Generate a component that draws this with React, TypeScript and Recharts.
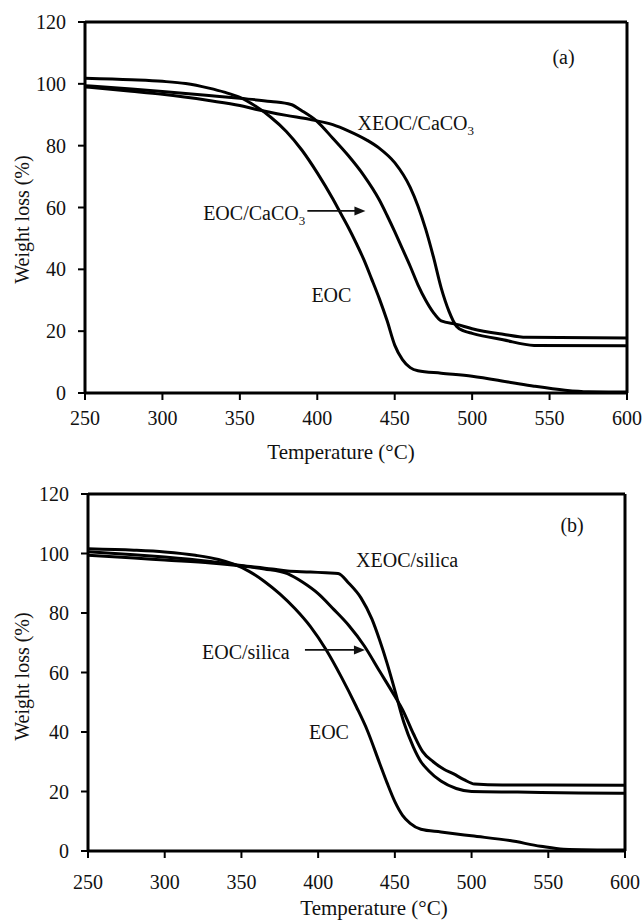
import { LineChart, Line, XAxis, YAxis, ReferenceLine, ReferenceDot, Label } from "recharts";

// (a) EOC / CaCO3 composites
const eocTempA = [250, 280, 300, 315, 330, 340, 350, 360, 370, 380, 390, 400, 410, 415, 420, 425, 430, 435, 440, 445, 450, 455, 460, 465, 480, 500, 525, 540, 560, 575, 600];
const eocWeightA = [101.8, 101.3, 100.8, 100.1, 98.6, 97.3, 95.6, 92.8, 89.2, 84.6, 78.6, 71.2, 62.8, 58.2, 53.6, 48.6, 43.2, 37.0, 30.6, 23.5, 15.5, 10.8, 8.2, 7.2, 6.4, 5.4, 3.4, 2.2, 0.9, 0.4, 0.3];

const eocCaco3TempA = [250, 280, 300, 330, 350, 370, 383, 390, 400, 410, 420, 430, 440, 445, 450, 455, 460, 465, 470, 475, 480, 490, 500, 520, 535, 600];
const eocCaco3WeightA = [99.4, 98.3, 97.5, 96.2, 95.3, 94.3, 93.3, 91.3, 87.8, 82.4, 76.8, 70.4, 62.5, 57.5, 52.2, 46.6, 41, 35, 30, 26, 23.3, 22.2, 20.8, 19, 18, 17.8];

const xeocCaco3TempA = [250, 280, 300, 330, 350, 360, 380, 395, 410, 420, 432, 440, 450, 460, 465, 470, 475, 480, 485, 490, 495, 500, 520, 540, 600];
const xeocCaco3WeightA = [99.0, 97.6, 96.6, 94.6, 93.0, 91.8, 89.8, 88.5, 86.8, 84.8, 81.8, 79.2, 74.5, 66.5, 60.5, 53, 44, 34, 26.5, 21.5, 20, 19.3, 17.2, 15.4, 15.3];

// (b) EOC / silica composites
const eocTempB = [250, 280, 300, 320, 335, 345, 355, 365, 375, 385, 395, 405, 415, 425, 432, 440, 445, 450, 455, 460, 467, 480, 500, 525, 545, 560, 600];
const eocWeightB = [101.6, 101.1, 100.5, 99.4, 98.0, 96.4, 94.0, 90.6, 86.4, 81.4, 75.4, 67.8, 58.6, 48.4, 40.6, 29.6, 22.8, 16.6, 12, 9.3, 7.3, 6.4, 5.1, 3.5, 1.6, 0.6, 0.3];

const eocSilicaTempB = [250, 280, 300, 330, 350, 365, 380, 390, 400, 410, 420, 430, 440, 450, 455, 462, 468, 475, 482, 488, 495, 502, 520, 600];
const eocSilicaWeightB = [99.4, 98.5, 97.8, 96.8, 95.8, 94.8, 93.2, 90.3, 86.5, 81.3, 75.8, 69, 60.5, 52, 47.5, 39.5, 33.5, 30, 27.5, 26, 24, 22.5, 22.2, 22.1];

const xeocSilicaTempB = [250, 280, 300, 330, 350, 370, 380, 395, 405, 413, 420, 428, 435, 440, 445, 450, 456, 462, 467, 472, 480, 490, 500, 530, 570, 600];
const xeocSilicaWeightB = [100.6, 99.6, 98.8, 97.3, 96.0, 94.8, 94.1, 93.8, 93.5, 93.3, 90, 85, 78, 71, 63, 54, 43, 35, 30, 27, 23.5, 21, 20, 19.8, 19.5, 19.4];

const tempTicks = [250, 300, 350, 400, 450, 500, 550, 600];
const weightTicks = [0, 20, 40, 60, 80, 100, 120];

const FONT = "Liberation Serif, DejaVu Serif, serif";
const INK = "#111";

const toPoints = (temps: number[], weights: number[]) =>
  temps.map((t, i) => ({ t, w: weights[i] }));

function Note({ cx, cy, text, sub, anchor = "start" }: any) {
  return (
    <text x={cx} y={cy} dy="0.33em" textAnchor={anchor} style={{ fontFamily: FONT, fontSize: 20 }} fill={INK}>
      {text}
      {sub && (
        <tspan style={{ fontSize: 13 }} dy={5}>
          {sub}
        </tspan>
      )}
    </text>
  );
}

function Arrow({ x1, y1, x2, y2 }: any) {
  return (
    <g>
      <line x1={x1} y1={y1} x2={x2 - 8} y2={y2} stroke={INK} strokeWidth={1.6} />
      <polygon points={`${x2},${y2} ${x2 - 11},${y2 - 4.5} ${x2 - 11},${y2 + 4.5}`} fill={INK} />
    </g>
  );
}

interface PanelProps {
  height: number;
  margin: { top: number; right: number; bottom: number; left: number };
  yAxisWidth: number;
  xAxisHeight: number;
  xTickMargin: number;
  xTitleShift: number;
  xTitleBaseline: number;
  yTitleShift: number;
  series: { t: number; w: number }[][];
  tag: string;
  tagPos: [number, number];
  notes: { x: number; y: number; text: string; sub?: string }[];
  arrow: [number, number, number];
}

const tickStyle = { fill: INK, fontSize: 20, style: { fontFamily: FONT } };

function Panel(p: PanelProps) {
  return (
    <LineChart width={642} height={p.height} margin={p.margin}>
      <XAxis
        dataKey="t"
        type="number"
        domain={[250, 600]}
        ticks={tempTicks}
        axisLine={{ stroke: "#000", strokeWidth: 3 }}
        tickLine={{ stroke: "#000", strokeWidth: 2 }}
        tickSize={7}
        tickMargin={p.xTickMargin}
        height={p.xAxisHeight}
        tick={tickStyle}
      >
        <Label
          content={({ viewBox }: any) => (
            <text
              x={viewBox.x + viewBox.width / 2 + p.xTitleShift}
              y={viewBox.y + viewBox.height - p.xTitleBaseline}
              textAnchor="middle"
              style={{ fontFamily: FONT, fontSize: 21 }}
              fill={INK}
            >
              Temperature (°C)
            </text>
          )}
        />
      </XAxis>
      <YAxis
        type="number"
        domain={[0, 120]}
        ticks={weightTicks}
        axisLine={{ stroke: "#000", strokeWidth: 3 }}
        tickLine={{ stroke: "#000", strokeWidth: 2 }}
        tickSize={7}
        tickMargin={12}
        width={p.yAxisWidth}
        tick={tickStyle}
      >
        <Label
          content={({ viewBox }: any) => {
            const cx = 22;
            const cy = viewBox.y + viewBox.height / 2 + p.yTitleShift;
            return (
              <text
                transform={`translate(${cx},${cy}) rotate(-90)`}
                textAnchor="middle"
                dy="0.33em"
                style={{ fontFamily: FONT, fontSize: 20 }}
                fill={INK}
              >
                Weight loss (%)
              </text>
            );
          }}
        />
      </YAxis>
      <ReferenceLine y={120} stroke="#000" strokeWidth={3} />
      <ReferenceLine x={600} stroke="#000" strokeWidth={3} />
      {p.series.map((data, i) => (
        <Line
          key={i}
          data={data}
          dataKey="w"
          type="monotone"
          stroke="#000"
          strokeWidth={3}
          dot={false}
          isAnimationActive={false}
        />
      ))}
      {p.notes.map((n, i) => (
        <ReferenceDot
          key={i}
          x={n.x}
          y={n.y}
          r={0}
          shape={(s: any) => <Note cx={s.cx} cy={s.cy} text={n.text} sub={n.sub} />}
        />
      ))}
      <ReferenceDot
        x={p.tagPos[0]}
        y={p.tagPos[1]}
        r={0}
        shape={(s: any) => <Note cx={s.cx} cy={s.cy} text={p.tag} anchor="middle" />}
      />
      <ReferenceLine
        segment={[
          { x: p.arrow[0], y: p.arrow[2] },
          { x: p.arrow[1], y: p.arrow[2] },
        ]}
        stroke={INK}
        shape={(s: any) => <Arrow {...s} />}
      />
    </LineChart>
  );
}

export default function App() {
  return (
    <div style={{ position: "absolute", left: 0, top: 0, width: 642, height: 921, background: "#fff" }}>
      <div style={{ position: "absolute", left: 0, top: 0 }}>
        <Panel
          height={470}
          margin={{ top: 22, right: 15, bottom: 0, left: 0 }}
          yAxisWidth={85}
          xAxisHeight={77}
          xTickMargin={11}
          xTitleShift={-15}
          xTitleBaseline={11}
          yTitleShift={12}
          series={[
            toPoints(eocTempA, eocWeightA),
            toPoints(eocCaco3TempA, eocCaco3WeightA),
            toPoints(xeocCaco3TempA, xeocCaco3WeightA),
          ]}
          tag="(a)"
          tagPos={[559, 108.7]}
          notes={[
            { x: 426, y: 87.3, text: "XEOC/CaCO", sub: "3" },
            { x: 326.3, y: 58.2, text: "EOC/CaCO", sub: "3" },
            { x: 396.2, y: 31.7, text: "EOC" },
          ]}
          arrow={[393.6, 431.1, 58.9]}
        />
      </div>
      <div style={{ position: "absolute", left: 0, top: 460 }}>
        <Panel
          height={461}
          margin={{ top: 34, right: 17, bottom: 0, left: 0 }}
          yAxisWidth={88}
          xAxisHeight={70}
          xTickMargin={17}
          xTitleShift={17.5}
          xTitleBaseline={6}
          yTitleShift={4}
          series={[
            toPoints(eocTempB, eocWeightB),
            toPoints(eocSilicaTempB, eocSilicaWeightB),
            toPoints(xeocSilicaTempB, xeocSilicaWeightB),
          ]}
          tag="(b)"
          tagPos={[565.5, 109.6]}
          notes={[
            { x: 424.7, y: 97.8, text: "XEOC/silica" },
            { x: 324.3, y: 66.6, text: "EOC/silica" },
            { x: 394, y: 39.7, text: "EOC" },
          ]}
          arrow={[391.4, 430.5, 67.6]}
        />
      </div>
    </div>
  );
}
